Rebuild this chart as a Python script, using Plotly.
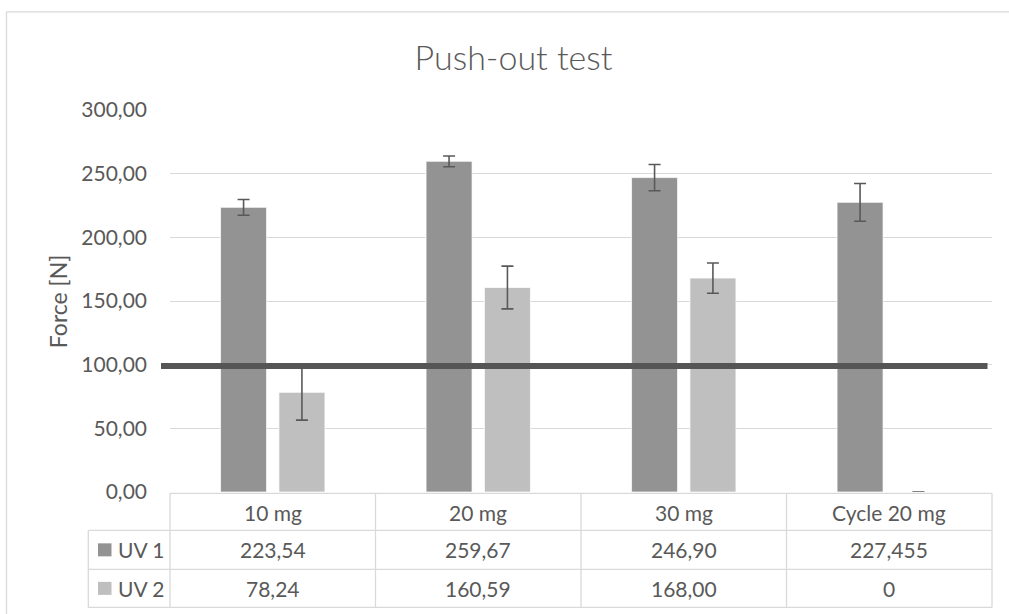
import plotly.graph_objects as go

# Push-out test results
categories = ["10 mg", "20 mg", "30 mg", "Cycle 20 mg"]
series_names = ["UV 1", "UV 2"]
uv1_values = [223.54, 259.67, 246.90, 227.455]
uv2_values = [78.24, 160.59, 168.00, 0]
uv1_errors = [6.2, 4.2, 10.3, 14.8]
uv2_errors = [21.8, 16.8, 11.9, 0]
uv1_decimals = [2, 2, 2, 3]
uv2_decimals = [2, 2, 2, 0]
threshold = 99.0
y_ticks = [0, 50, 100, 150, 200, 250, 300]

dark_bar = "#939393"
light_bar = "#bfbfbf"
text_col = "#595959"
grid_col = "#d9d9d9"
font_family = "Lato, 'Open Sans', sans-serif"


def fmt(v, d):
    s = f"{v:.{d}f}"
    return s.replace(".", ",")


fig = go.Figure()
for name, vals, errs, col in [
    (series_names[0], uv1_values, uv1_errors, dark_bar),
    (series_names[1], uv2_values, uv2_errors, light_bar),
]:
    fig.add_trace(go.Bar(
        x=categories, y=vals, name=name,
        marker=dict(color=col, line=dict(color="rgba(255,255,255,0.7)", width=1)),
        error_y=dict(type="data", array=errs, visible=True,
                     color="#595959", thickness=1.6, width=6),
    ))

L, R, T, B = 170, 17, 110, 122.3
W, H = 1009, 614
pw = W - L - R
ph = H - T - B


def px_to_py(p):
    return (H - B - p) / ph


def px_to_px(p):
    return (p - L) / pw


shapes = []
# threshold line
shapes.append(dict(type="line", xref="paper", yref="y",
                   x0=px_to_px(161), x1=px_to_px(987.5), y0=threshold, y1=threshold,
                   line=dict(color="#555555", width=6), layer="above"))

# data table grid
row_px = [493, 530, 569, 607]
col_px = [170, 375.5, 581, 786.5, 992]
legend_left = 88.3
tline = dict(color=grid_col, width=1.3)
shapes.append(dict(type="line", xref="paper", yref="paper",
                   x0=px_to_px(col_px[0]), x1=px_to_px(col_px[-1]),
                   y0=px_to_py(row_px[0]), y1=px_to_py(row_px[0]), line=tline))
for r in row_px[1:]:
    shapes.append(dict(type="line", xref="paper", yref="paper",
                       x0=px_to_px(legend_left), x1=px_to_px(col_px[-1]),
                       y0=px_to_py(r), y1=px_to_py(r), line=tline))
for c in col_px:
    shapes.append(dict(type="line", xref="paper", yref="paper",
                       x0=px_to_px(c), x1=px_to_px(c),
                       y0=px_to_py(row_px[0]), y1=px_to_py(row_px[-1]), line=tline))
shapes.append(dict(type="line", xref="paper", yref="paper",
                   x0=px_to_px(legend_left), x1=px_to_px(legend_left),
                   y0=px_to_py(row_px[1]), y1=px_to_py(row_px[-1]), line=tline))

# legend keys in table
for i, col in enumerate([dark_bar, light_bar]):
    yc = (row_px[i + 1] + row_px[i + 2]) / 2
    shapes.append(dict(type="rect", xref="paper", yref="paper",
                       x0=px_to_px(98), x1=px_to_px(111.5),
                       y0=px_to_py(yc + 6.5), y1=px_to_py(yc - 6.5),
                       fillcolor=col, line=dict(width=0)))

# chart frame (top and left edges fall inside the page)
frame = dict(color="#d9d9d9", width=1.3)
shapes.append(dict(type="line", xref="paper", yref="paper",
                   x0=px_to_px(6.5), x1=px_to_px(W), y0=px_to_py(12), y1=px_to_py(12),
                   line=frame, layer="below"))
shapes.append(dict(type="line", xref="paper", yref="paper",
                   x0=px_to_px(6.5), x1=px_to_px(6.5), y0=px_to_py(12), y1=px_to_py(H),
                   line=frame, layer="below"))

annotations = []
cell_font = dict(family=font_family, size=21, color=text_col)
for j, cat in enumerate(categories):
    xc = px_to_px((col_px[j] + col_px[j + 1]) / 2)
    annotations.append(dict(x=xc, y=px_to_py((row_px[0] + row_px[1]) / 2 + 1),
                            xref="paper", yref="paper", text=cat, showarrow=False,
                            font=cell_font, xanchor="center", yanchor="middle"))
    annotations.append(dict(x=xc, y=px_to_py((row_px[1] + row_px[2]) / 2),
                            xref="paper", yref="paper",
                            text=fmt(uv1_values[j], uv1_decimals[j]), showarrow=False,
                            font=cell_font, xanchor="center", yanchor="middle"))
    annotations.append(dict(x=xc, y=px_to_py((row_px[2] + row_px[3]) / 2),
                            xref="paper", yref="paper",
                            text=fmt(uv2_values[j], uv2_decimals[j]), showarrow=False,
                            font=cell_font, xanchor="center", yanchor="middle"))
for i, name in enumerate(series_names):
    yc = (row_px[i + 1] + row_px[i + 2]) / 2
    annotations.append(dict(x=px_to_px(116), y=px_to_py(yc), xref="paper", yref="paper",
                            text=name, showarrow=False, font=cell_font,
                            xanchor="left", yanchor="middle"))

# y-axis title
annotations.append(dict(x=px_to_px(58), y=px_to_py(302), xref="paper", yref="paper",
                        text="Force [N]", showarrow=False, textangle=-90,
                        font=dict(family=font_family, size=23, color=text_col),
                        xanchor="center", yanchor="middle"))

fig.update_layout(
    width=W, height=H,
    margin=dict(l=L, r=R, t=T, b=B, pad=0),
    paper_bgcolor="white", plot_bgcolor="white",
    separators=", ",
    barmode="group", bargap=0.432, bargroupgap=0.212,
    showlegend=False,
    title=dict(text="Push-out test", x=513.5 / W, xref="container", xanchor="center",
               y=1 - 58 / H, yref="container", yanchor="middle",
               font=dict(family=font_family, size=34, color=text_col, weight=300)),
    shapes=shapes,
    annotations=annotations,
    font=dict(family=font_family, color=text_col),
)
fig.update_xaxes(showticklabels=False, showgrid=False, zeroline=False, showline=False,
                 ticks="")
fig.update_yaxes(range=[0, 300], tickvals=y_ticks, tickformat=".2f",
                 showgrid=True, gridcolor=grid_col, gridwidth=1.3,
                 zeroline=False, showline=False, ticks="",
                 ticklabelstandoff=22,
                 tickfont=dict(family=font_family, size=21, color=text_col))

fig.write_html("out.html")
